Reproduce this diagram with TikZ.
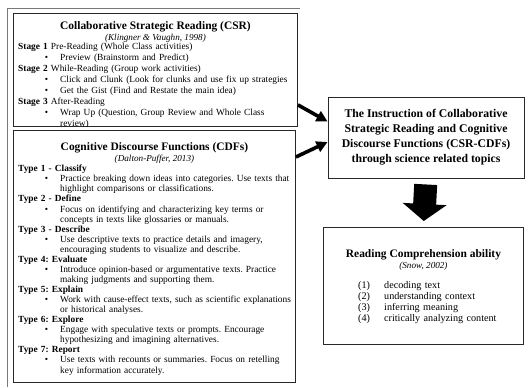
\documentclass[tikz,border=0pt]{standalone}
\usepackage{fontspec}
\setmainfont{Liberation Serif}
\usepackage{tikz}
\usetikzlibrary{arrows.meta,positioning}
\definecolor{boxline}{RGB}{40,40,40}
\definecolor{frameg}{RGB}{120,120,120}
\frenchspacing

\newcommand{\bitem}[1]{{\leftskip=42bp\relax\noindent\llap{\textbullet\hspace{12bp}}#1\par}}

\begin{document}
\begin{tikzpicture}[
  x=1bp, y=-1bp,
  every node/.style={inner sep=0pt},
  panel/.style={draw=boxline, line width=0.9bp, anchor=north west},
  ttl/.style={font=\fontsize{11.5}{13}\selectfont\bfseries},
  cite/.style={font=\fontsize{9.2}{10}\selectfont\itshape},
  txt/.style={text width=290bp, anchor=north west, align=left},
  link/.style={-{Triangle[length=11bp,width=11bp]}, line width=3.6bp, black},
  bigdown/.style={-{Triangle[length=17bp,width=43bp]}, line width=23bp, black,
                  shorten <=6bp, shorten >=6bp},
]
\useasboundingbox (0,0) rectangle (531,387);
% frame round the left column
\draw[frameg, line width=0.8bp] (7,387) -- (7,8) -- (300,8);

% CSR panel
\node[panel, minimum width=284bp, minimum height=113bp] (csr) at (13,13) {};
\node[ttl, below=8bp of csr.north] (csrtitle) {Collaborative Strategic Reading (CSR)};
\node[cite, below=2bp of csrtitle] (csrcite) {(Klingner \& Vaughn, 1998)};
\begin{scope}
\clip (csr.north west) rectangle (csr.south east);
\node[txt, font=\fontsize{9.4}{11}\selectfont,
      below right=30bp and 5bp of csr.north west] (csrbody) {%
  \textbf{Stage 1} Pre-Reading (Whole Class activities)\par
  \bitem{Preview (Brainstorm and Predict)}
  \textbf{Stage 2} While-Reading (Group work activities)\par
  \bitem{Click and Clunk (Look for clunks and use fix up strategies}
  \bitem{Get the Gist (Find and Restate the main idea)}
  \textbf{Stage 3} After-Reading\par
  \bitem{Wrap Up (Question, Group Review and Whole Class\newline review)}};
\end{scope}

% CDF panel
\node[panel, minimum width=282bp, minimum height=252bp] (cdf) at (13,130) {};
\node[ttl, below=12bp of cdf.north] (cdftitle) {Cognitive Discourse Functions (CDFs)};
\node[cite, below=2bp of cdftitle] (cdfcite) {(Dalton-Puffer, 2013)};
\node[txt, font=\fontsize{9.4}{10.1}\selectfont,
      below right=35bp and 5bp of cdf.north west] (cdfbody) {%
  \textbf{Type 1 - Classify}\par
  \bitem{Practice breaking down ideas into categories. Use texts that\newline
         highlight comparisons or classifications.}
  \textbf{Type 2 - Define}\par
  \bitem{Focus on identifying and characterizing key terms or\newline
         concepts in texts like glossaries or manuals.}
  \textbf{Type 3 - Describe}\par
  \bitem{Use descriptive texts to practice details and imagery,\newline
         encouraging students to visualize and describe.}
  \textbf{Type 4: Evaluate}\par
  \bitem{Introduce opinion-based or argumentative texts. Practice\newline
         making judgments and supporting them.}
  \textbf{Type 5: Explain}\par
  \bitem{Work with cause-effect texts, such as scientific explanations\newline
         or historical analyses.}
  \textbf{Type 6: Explore}\par
  \bitem{Engage with speculative texts or prompts. Encourage\newline
         hypothesizing and imagining alternatives.}
  \textbf{Type 7: Report}\par
  \bitem{Use texts with recounts or summaries. Focus on retelling\newline
         key information accurately.}};

% target box
\node[draw=boxline, line width=0.9bp, minimum width=196bp, minimum height=81bp,
      align=center, font=\fontsize{11.8}{15}\selectfont\bfseries] (inst) at (426,137.5)
      {The Instruction of Collaborative\\Strategic Reading and Cognitive\\
       Discourse Functions (CSR-CDFs)\\through science related topics};

\draw[link] ([yshift=22bp]csr.south east) -- ([yshift=16bp]inst.west);
\draw[link] ([yshift=-27bp]cdf.north east) -- ([yshift=-4.5bp]inst.west);

% outcome box
\node[panel, minimum width=200bp, minimum height=117bp] (rca) at (323,227) {};
\node[ttl, below=22bp of rca.north] (rcatitle) {Reading Comprehension ability};
\node[cite, below=2bp of rcatitle] (rcacite) {(Snow, 2002)};
\node[txt, text width=160bp, below right=54bp and 35bp of rca.north west,
      font=\fontsize{10.2}{11}\selectfont] (rcalist) {%
  \makebox[26bp][l]{(1)}decoding text\par
  \makebox[26bp][l]{(2)}understanding context\par
  \makebox[26bp][l]{(3)}inferring meaning\par
  \makebox[26bp][l]{(4)}critically analyzing content};

\draw[bigdown] (inst.south) -- (rca.north);
\end{tikzpicture}
\end{document}
